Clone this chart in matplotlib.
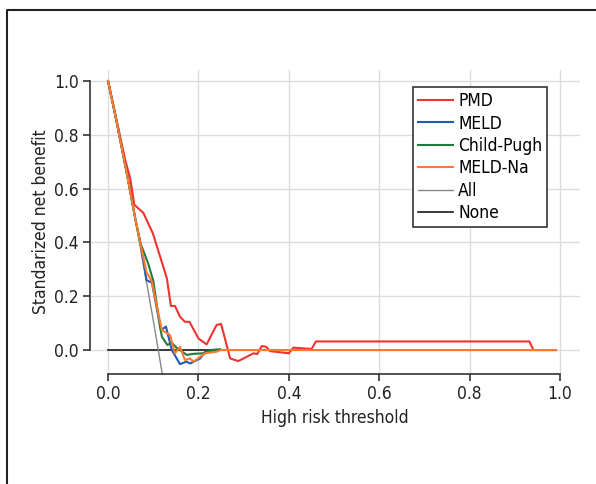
import matplotlib
matplotlib.use('Agg')
import matplotlib.pyplot as plt
from matplotlib.lines import Line2D

plt.rcParams['font.family'] = ['DejaVu Sans']
plt.rcParams['font.stretch'] = 'condensed'

# curvas de decision
pmd_x = [0, 0.038, 0.049, 0.058, 0.078, 0.099, 0.13, 0.139, 0.148, 0.159, 0.17, 0.18,
         0.20, 0.218, 0.24, 0.25, 0.27, 0.288, 0.322, 0.33, 0.34, 0.35, 0.358, 0.40,
         0.41, 0.45, 0.46, 0.932, 0.941, 0.99]
pmd_y = [1.0, 0.706, 0.638, 0.54, 0.51, 0.434, 0.267, 0.164, 0.164, 0.124, 0.105, 0.105,
         0.043, 0.021, 0.093, 0.097, -0.031, -0.041, -0.012, -0.015, 0.015, 0.012, -0.004, -0.012,
         0.009, 0.004, 0.032, 0.032, 0.0, 0.0]

meld_x = [0, 0.02, 0.04, 0.06, 0.071, 0.085, 0.097, 0.117, 0.128, 0.141, 0.159, 0.174,
          0.181, 0.204, 0.215, 0.24]
meld_y = [1.0, 0.84, 0.67, 0.49, 0.403, 0.26, 0.25, 0.074, 0.087, 0.0, -0.052, -0.043,
          -0.05, -0.031, -0.006, -0.002]

cp_x = [0, 0.02, 0.04, 0.06, 0.071, 0.089, 0.10, 0.115, 0.119, 0.131, 0.141, 0.152,
        0.174, 0.189, 0.211, 0.226, 0.248]
cp_y = [1.0, 0.84, 0.67, 0.49, 0.40, 0.32, 0.257, 0.087, 0.05, 0.019, 0.027, 0.008,
        -0.018, -0.014, -0.012, 0.0, 0.003]

na_x = [0, 0.02, 0.04, 0.06, 0.071, 0.085, 0.097, 0.108, 0.119, 0.137, 0.148, 0.159,
        0.17, 0.181, 0.189, 0.215, 0.24, 0.249, 0.99]
na_y = [1.0, 0.84, 0.67, 0.49, 0.40, 0.29, 0.254, 0.161, 0.074, 0.056, -0.012, 0.012,
        -0.037, -0.031, -0.043, -0.012, -0.006, 0.0, 0.0]

all_x = [0, 0.05, 0.08, 0.10, 0.111, 0.12, 0.125]
all_y = [1.0, 0.58, 0.30, 0.11, 0.0, -0.09, -0.14]

none_x = [0, 0.99]
none_y = [0, 0]

ticks = [0.0, 0.2, 0.4, 0.6, 0.8, 1.0]

fig = plt.figure(figsize=(5.96, 4.84), dpi=100)
ax = fig.add_axes([90/596, 1-374/484, 490/596, 304/484])

ax.plot(none_x, none_y, color='#1a1a1a', lw=1.2, label='None', zorder=2)
ax.plot(all_x, all_y, color='#888888', lw=1.0, label='All', zorder=2)
ax.plot(pmd_x, pmd_y, color='#EE3333', lw=1.5, label='PMD', zorder=3)
ax.plot(meld_x, meld_y, color='#2458B8', lw=1.5, label='MELD', zorder=3)
ax.plot(cp_x, cp_y, color='#1F7A3C', lw=1.5, label='Child-Pugh', zorder=3)
ax.plot(na_x, na_y, color='#FF7A2E', lw=1.5, label='MELD-Na', zorder=4)

ax.set_xlim(-0.04, 1.044)
ax.set_ylim(-0.089, 1.041)
ax.set_xticks(ticks)
ax.set_yticks(ticks)
ax.set_xticklabels(['%.1f' % t for t in ticks])
ax.set_yticklabels(['%.1f' % t for t in ticks])
ax.grid(True, color='#DCDCDC', lw=1.0)
ax.set_axisbelow(True)
for s in ['top', 'right']:
    ax.spines[s].set_visible(False)
ax.spines['left'].set_bounds(0, 1)
ax.spines['bottom'].set_bounds(0, 1)
for s in ['left', 'bottom']:
    ax.spines[s].set_color('#333333')
    ax.spines[s].set_linewidth(1.2)
ax.tick_params(length=5, width=1.2, color='#333333', labelsize=12.5, labelcolor='#222222', pad=3)

ax.set_xlabel('High risk threshold', fontsize=12.5, color='#222222', labelpad=4)
ax.set_ylabel('Standarized net benefit', fontsize=12.5, color='#222222', labelpad=3)

handles, labels = ax.get_legend_handles_labels()
order = ['PMD', 'MELD', 'Child-Pugh', 'MELD-Na', 'All', 'None']
hmap = dict(zip(labels, handles))
leg = ax.legend([hmap[k] for k in order], order, loc='upper left',
                bbox_to_anchor=(0.659, 0.944), borderaxespad=0, fontsize=12.5,
                fancybox=False, edgecolor='#333333', framealpha=1,
                handlelength=2.0, handletextpad=0.3, labelspacing=0.25,
                borderpad=0.3)
leg.get_frame().set_linewidth(1.2)

# marco exterior
fig.add_artist(Line2D([7/596, 7/596, 1], [0, 1-10/484, 1-10/484],
                      transform=fig.transFigure, color='#222222', lw=1.5))

fig.savefig('out.png', dpi=100)
